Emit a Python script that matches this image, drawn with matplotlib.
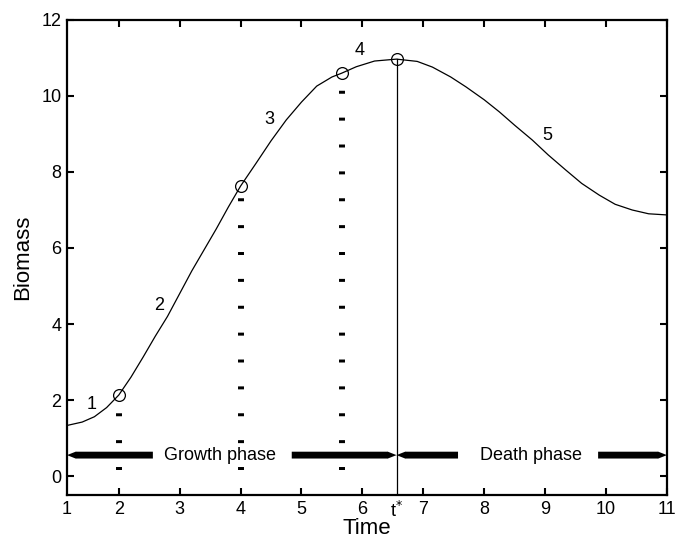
import matplotlib
matplotlib.use("Agg")
import matplotlib.pyplot as plt
from matplotlib.patches import FancyArrow

plt.rcParams['font.family'] = ['Liberation Sans', 'DejaVu Sans']

# biomass curve
time = [1.15, 1.4, 1.6, 1.8, 2.0, 2.2, 2.4, 2.6, 2.8, 3.0, 3.2, 3.4, 3.6, 3.8, 4.0,
        4.25, 4.5, 4.75, 5.0, 5.25, 5.5, 5.66, 5.9, 6.2, 6.56, 6.9, 7.15, 7.45, 7.7,
        8.0, 8.25, 8.5, 8.79, 9.05, 9.34, 9.6, 9.89, 10.15, 10.43, 10.7, 11.0]
biomass = [1.33, 1.42, 1.56, 1.8, 2.13, 2.6, 3.13, 3.68, 4.2, 4.8, 5.4, 5.95, 6.5, 7.08, 7.63,
           8.22, 8.82, 9.37, 9.84, 10.26, 10.5, 10.6, 10.77, 10.92, 10.97, 10.91, 10.76, 10.5, 10.24,
           9.9, 9.58, 9.23, 8.84, 8.45, 8.05, 7.7, 7.39, 7.15, 7.0, 6.9, 6.87]

# marked points (circles)
mark_t = [2.0, 4.0, 5.66, 6.56]
mark_b = [2.13, 7.63, 10.6, 10.97]

# dotted guide lines: x, top
guide_x = [2.0, 4.0, 5.66]
guide_top = [1.9, 7.4, 10.3]

t_star = 6.56

# stage numbers
stage_lbl = ['1', '2', '3', '4', '5']
stage_x = [1.56, 2.67, 4.48, 5.95, 9.03]
stage_y = [1.87, 4.5, 9.37, 11.2, 8.97]

# phase arrows: (start, end) with head at end
arrow_y = 0.55
phase_arrows = [(2.56, 1.15), (4.84, t_star), (7.57, t_star), (9.87, 11.0)]
phase_text = ['Growth phase', 'Death phase']
phase_text_x = [3.66, 8.77]

xticks = [1.15, 2, 3, 4, 5, 6, t_star, 7, 8, 9, 10, 11]
xtick_lbl = ['1', '2', '3', '4', '5', '6', 't$^{*}$', '7', '8', '9', '10', '11']
yticks = [0, 2, 4, 6, 8, 10, 12]

fig = plt.figure(figsize=(6.76, 5.40), dpi=100)
ax = fig.add_axes([0.0991, 0.0833, 0.8875, 0.8797])

ax.plot(time, biomass, color='black', lw=0.9)
ax.plot(mark_t, mark_b, 'o', mfc='none', mec='black', ms=8.5, mew=0.9)

# dotted vertical guides
for gx, gt in zip(guide_x, guide_top):
    ax.plot([gx, gx], [0.16, gt], color='black', lw=4.3,
            linestyle=(0, (0.5, 4.0)), dash_capstyle='butt')

ax.plot([t_star, t_star], [-0.5, mark_b[-1]], color='black', lw=0.9)

for s, sx, sy in zip(stage_lbl, stage_x, stage_y):
    ax.text(sx, sy, s, fontsize=13, ha='center', va='center')

for a, b in phase_arrows:
    ax.add_patch(FancyArrow(a, arrow_y, b - a, 0, width=0.18, head_width=0.19,
                            head_length=0.15, length_includes_head=True,
                            color='black', lw=0))
for s, sx in zip(phase_text, phase_text_x):
    ax.text(sx, arrow_y, s, fontsize=13, ha='center', va='center')

ax.set_xlim(1.15, 11)
ax.set_ylim(-0.5, 12)
ax.set_xticks(xticks)
ax.set_xticklabels(xtick_lbl)
ax.set_yticks(yticks)
ax.tick_params(direction='in', top=True, right=True, length=5, width=1.5,
               labelsize=13, pad=4)
for i in (0, 6):
    ax.xaxis.get_major_ticks()[i].tick1line.set_visible(False)
    ax.xaxis.get_major_ticks()[i].tick2line.set_visible(False)
for sp in ax.spines.values():
    sp.set_linewidth(1.6)

ax.set_xlabel('Time', fontsize=16, labelpad=-2)
ax.set_ylabel('Biomass', fontsize=16, labelpad=6)

fig.savefig('out.png', dpi=100)
